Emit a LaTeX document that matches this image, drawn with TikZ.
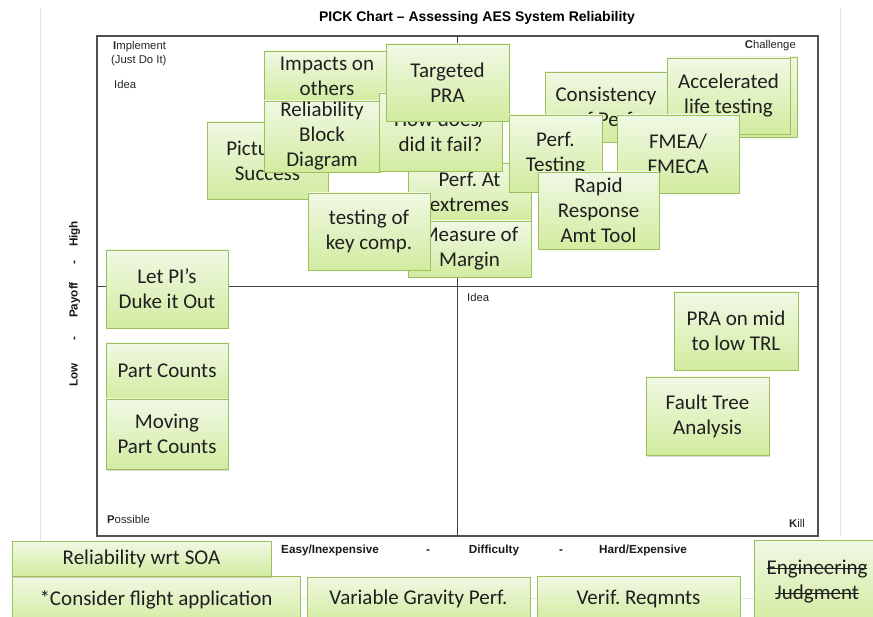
\documentclass[tikz,border=0pt]{standalone}
\usepackage{fontspec}
\usetikzlibrary{shadows}
\newfontfamily\boxfont{Carlito}
\newfontfamily\arialfont{Liberation Sans}
\newcommand\mystrike[1]{\setbox0\hbox{#1}\rlap{\rule[0.27em]{\wd0}{0.055em}}\box0}
\frenchspacing
\definecolor{gtop}{RGB}{240,248,228}
\definecolor{gbot}{RGB}{210,236,160}
\definecolor{gborder}{RGB}{158,192,92}
\definecolor{framec}{RGB}{80,80,80}
\definecolor{faint}{RGB}{228,228,228}
\tikzset{
  gbox/.style={draw=gborder, line width=0.8pt, top color=gtop, bottom color=gbot,
    inner sep=0pt, align=center, text=black!88,
    font=\boxfont\fontsize{21}{25}\selectfont\frenchspacing,
    drop shadow={shadow xshift=1.2pt, shadow yshift=-1.5pt, opacity=0.3}},
  qlab/.style={font=\arialfont\fontsize{11.3}{13}\selectfont, inner sep=0pt, text=black!85},
  axlab/.style={font=\arialfont\bfseries\fontsize{11.7}{13}\selectfont, inner sep=0pt,
    text height=0.72em, text depth=0.2em, text=black!90},
  faintline/.style={draw=faint, line width=0.6pt}
}
\begin{document}
\begin{tikzpicture}[x=1pt,y=-1pt]
\useasboundingbox[fill=white] (0,0) rectangle (873,617);
% faint slide edges
\coordinate (fl1) at (40,8); \coordinate (fl2) at (40,541);
\coordinate (fr1) at (840,8); \coordinate (fr2) at (840,536);
\coordinate (fb1) at (12,598); \coordinate (fb2) at (873,598);
\draw[faintline] (fl1) -- (fl2);
\draw[faintline] (fr1) -- (fr2);
\draw[faintline] (fb1) -- (fb2);
% title
\node[font=\arialfont\bfseries\fontsize{14}{16}\selectfont, inner sep=0pt] (title) at (477,18) {PICK Chart – Assessing AES System Reliability};
% frame
\coordinate (tl) at (97,36); \coordinate (br) at (818,536);
\coordinate (mt) at (457,36); \coordinate (mb) at (457,536);
\coordinate (ml) at (97,286); \coordinate (mr) at (818,286);
\draw[draw=framec, line width=1.3pt] (tl) rectangle (br);
\draw[draw=black!75, line width=0.8pt] (mt) -- (mb);
\draw[draw=black!75, line width=0.8pt] (ml) -- (mr);
% quadrant labels
\node[qlab, anchor=west] (impl) at (113,47) {\textbf{I}mplement};
\node[qlab, anchor=west] (just) at (111,61) {(Just Do It)};
\node[qlab, anchor=west] (idea1) at (114,84) {Idea};
\node[qlab, anchor=east] (chal) at (796,46) {\textbf{C}hallenge};
\node[qlab, anchor=west] (poss) at (107,519) {\textbf{P}ossible};
\node[qlab, anchor=east] (kill) at (805,523) {\textbf{K}ill};
\node[qlab, anchor=west] (idea2) at (467,297) {Idea};
% axis labels
\node[axlab, rotate=90] (ylow) at (75,375) {Low};
\node[axlab, rotate=90] (yd1) at (75,339) {-};
\node[axlab, rotate=90] (ypay) at (75,300) {Payoff};
\node[axlab, rotate=90] (yd2) at (75,263) {-};
\node[axlab, rotate=90] (yhigh) at (75,234) {High};
\node[axlab] (xeasy) at (330,551) {Easy/Inexpensive};
\node[axlab] (xd1) at (428,551) {-};
\node[axlab] (xdiff) at (494,551) {Difficulty};
\node[axlab] (xd2) at (561,551) {-};
\node[axlab] (xhard) at (643,551) {Hard/Expensive};
% green boxes, back to front
\node[gbox, minimum width=121, minimum height=77] (pic) at (267.5,160.5) {Picture of\\Success};
\node[gbox, minimum width=126, minimum height=50] (imp) at (327,76) {Impacts on\\others};
\node[gbox, minimum width=116, minimum height=71] (rbd) at (322,136.5) {Reliability\\Block\\Diagram};
\node[gbox, minimum width=123, minimum height=58] (perfat) at (469.5,192) {Perf. At\\extremes};
\node[gbox, minimum width=123, minimum height=56] (meas) at (469.5,249) {Measure of\\Margin};
\node[gbox, minimum width=123, minimum height=78] (how) at (440.5,132) {How does/\\did it fail?};
\node[gbox, minimum width=123, minimum height=77] (targ) at (447.5,82.5) {Targeted\\PRA};
\node[gbox, minimum width=122, minimum height=77] (testkey) at (369,231.5) {testing of\\key comp.};
\node[gbox, minimum width=122, minimum height=70] (cons) at (606,107) {Consistency\\of Perf.};
\node[gbox, minimum width=123, minimum height=80] (accback) at (735.5,97) {};
\node[gbox, minimum width=123, minimum height=76] (acc) at (728.5,96) {Accelerated\\life testing};
\node[gbox, minimum width=93, minimum height=77] (perft) at (555.5,153.5) {Perf.\\Testing};
\node[gbox, minimum width=122, minimum height=78] (fmea) at (678,154) {FMEA/\\FMECA};
\node[gbox, minimum width=121, minimum height=77] (rapid) at (598.5,210.5) {Rapid\\Response\\Amt Tool};
\node[gbox, minimum width=122, minimum height=78] (letpi) at (167,289) {Let PI’s\\Duke it Out};
\node[gbox, minimum width=122, minimum height=56] (parts) at (167,371) {Part Counts};
\node[gbox, minimum width=122, minimum height=70] (moving) at (167,434) {Moving\\Part Counts};
\node[gbox, minimum width=124, minimum height=78] (pramid) at (736,331) {PRA on mid\\to low TRL};
\node[gbox, minimum width=123, minimum height=78] (fta) at (707.5,416) {Fault Tree\\Analysis};
% bottom strip
\node[gbox, minimum width=288, minimum height=48] (consider) at (156,600) {*Consider flight application};
\node[gbox, minimum width=259, minimum height=35] (rsoa) at (141.5,558.5) {Reliability wrt SOA};
\node[gbox, minimum width=223, minimum height=44] (vgrav) at (418.5,599) {Variable Gravity Perf.};
\node[gbox, minimum width=203, minimum height=45] (verif) at (638.5,598.5) {Verif. Reqmnts};
\node[gbox, minimum width=126, minimum height=84] (eng) at (817,582) {\mystrike{Engineering}\\\mystrike{Judgment}};
\end{tikzpicture}
\end{document}
